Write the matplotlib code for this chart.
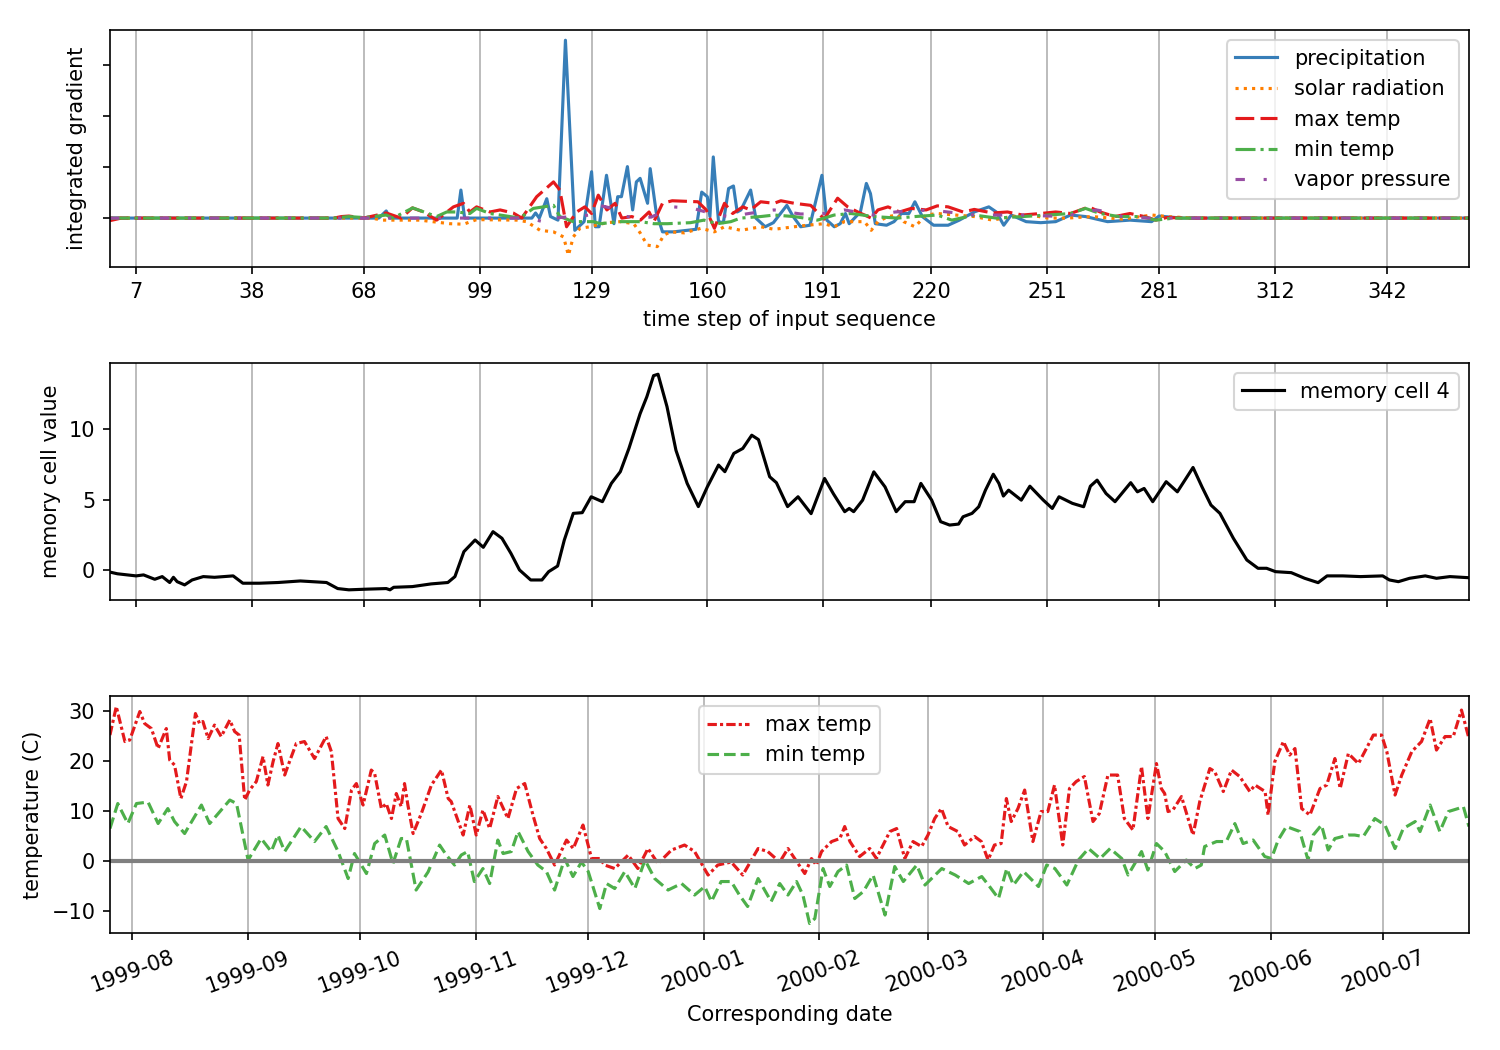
import datetime
import numpy as np
import matplotlib
matplotlib.use("Agg")
import matplotlib.pyplot as plt
import matplotlib.dates as mdates

# ---- integrated gradients (top panel), read as (time step, value) knots ----
precip_day = [0, 72, 74, 75, 93, 94, 95, 113, 114, 115, 117, 118, 120, 122, 124.5, 127, 129, 130, 131,
              133, 135, 136, 137, 138.6, 140, 141, 142, 144, 144.7, 146.3, 148, 151, 157, 158.5, 160,
              160.7, 161.6, 163, 164.3, 165.7, 167, 168, 169, 171.6, 173, 175.5, 177.7, 181.3, 183, 185,
              187.5, 190.7, 192, 194, 195.6, 197, 198, 201, 202.6, 203.7, 205, 208, 210, 212, 214, 215.6,
              217.6, 220.6, 224.5, 227.5, 231.5, 235.4, 237.4, 239.4, 241.4, 245.4, 249.3, 253.3, 257.3,
              261.3, 267.2, 273.2, 279, 281, 287, 364]
precip_val = [0, 0, 0.14, 0, 0, 0.55, 0, 0, 0.1, 0, 0.38, 0.03, -0.04, 3.49, -0.24, -0.07, 0.91, -0.17, -0.17,
              0.84, -0.11, 0.42, 0.42, 1.01, 0.16, 0.71, 0.78, 0.29, 0.97, 0.12, -0.27, -0.27, -0.22, 0.51, 0.42,
              0.03, 1.2, -0.07, -0.09, 0.58, 0.63, 0.12, 0.16, 0.55, 0, -0.17, -0.09, 0.25, 0.03, -0.17,
              -0.14, 0.84, -0.04, -0.17, -0.11, 0.09, -0.11, 0.12, 0.68, 0.48, -0.11, -0.14, -0.07, 0.09, 0.09, 0.32,
              0.03, -0.14, -0.14, -0.04, 0.12, 0.22, 0.12, -0.14, 0.06, -0.07, -0.09, -0.07, 0.06,
              0.03, -0.07, -0.04, -0.07, 0.04, 0, 0]

solar_day = [0, 70, 73, 83, 91, 94.7, 98.2, 108.9, 111.6, 115.2, 118.8, 121.5, 122.8, 124.1, 125.9, 128.6,
             133.1, 136.7, 140.3, 142.1, 143.9, 146.6, 148.4, 150.2, 153.8, 158.3, 161.9, 164.6, 169, 174.3,
             177.9, 183.3, 186.8, 191.3, 194, 196.7, 202.1, 203.9, 205.7, 208.4, 211, 212.6, 215.6, 218.6,
             221.6, 226.5, 231.5, 236.4, 241.4, 246.3, 251.3, 256.3, 263.2, 271.1, 279.1, 283.1, 290, 364]
solar_val = [0, 0, -0.04, -0.04, -0.11, -0.12, -0.03, -0.04, -0.07, -0.24, -0.27, -0.37, -0.73, -0.37, -0.2, -0.17,
             -0.09, -0.07, -0.11, -0.3, -0.53, -0.56, -0.33, -0.27, -0.29, -0.2, -0.27, -0.17, -0.24, -0.17,
             -0.22, -0.17, -0.14, -0.11, -0.17, -0.07, -0.07, -0.24, -0.07, 0.03, 0.06, -0.07, -0.17, 0.06,
             0.09, 0.06, 0.03, -0.04, 0.03, 0.06, 0, 0, 0.03, -0.02, 0.06, 0.03, 0, 0]

tmax_g_day = [0, 3, 60, 62, 64, 68, 74, 78, 81, 84, 87.5, 92, 94.7, 96.4, 98.2, 101.8, 104.5, 108, 110.3,
              114.3, 118.8, 120.5, 122.3, 125, 127.2, 129, 130.8, 133.1, 135.3, 137.1, 139.8, 142.1, 144.4,
              145.7, 148, 150.6, 157.5, 159.7, 161.9, 164.6, 166.8, 169.5, 171.6, 174.3, 177.9, 179.7, 183.3,
              187.7, 191.3, 194.9, 197.6, 200.3, 203.9, 205.7, 208.4, 211.5, 214.6, 218.6, 221.6, 224.5,
              228.5, 231.5, 236.4, 240.4, 244.4, 249.3, 253.3, 257.3, 262.2, 265.2, 269.2, 273.2, 277.1,
              280.1, 283, 290, 364]
tmax_g_val = [-0.05, 0, 0, 0.03, 0.04, 0, 0.1, 0, 0.2, 0.12, -0.04, 0.22, 0.29, 0.12, 0.22, 0.12, 0.16, 0.1, 0,
              0.42, 0.71, 0.55, -0.17, 0.12, 0.22, 0.09, 0.45, 0.16, 0.29, 0, 0.03, -0.04, 0.12,
              -0.07, 0.29, 0.34, 0.32, 0.16, -0.2, 0.29, 0.09, 0.22, 0.16, 0.32, 0.29, 0.34, 0.29,
              0.25, -0.02, 0.39, 0.22, 0.12, 0, 0.16, 0.22, 0.12, 0.19, 0.16, 0.24, 0.22,
              0.12, 0.17, 0.1, 0.12, 0.06, 0.09, 0.12, 0.09, 0.22, 0.12, 0.03, 0.09, 0.03,
              -0.04, 0.01, 0, 0]

tmin_g_day = [0, 60, 64, 68, 74, 75.8, 81.1, 87.5, 90.2, 92.9, 96.4, 98.2, 101.8, 104.5, 109.8, 113.4, 118.8,
              120.5, 124.1, 129.5, 131.3, 136.7, 142.1, 145.7, 149.3, 155.5, 159.1, 162.7, 166.3, 168.9,
              174.3, 177.9, 183.3, 189.5, 194, 198.5, 204.6, 210.9, 215.6, 221.6, 225.5, 231.5, 237.4,
              244.4, 251.3, 257.3, 261.3, 265.2, 270.2, 276.1, 280.1, 285, 364]
tmin_g_val = [0, 0, 0.03, 0.01, 0.06, 0, 0.2, 0.03, 0.12, 0.12, 0.09, 0.19, 0.09, 0.06, 0, 0.19, 0.25,
              0.03, -0.07, -0.07, -0.11, -0.07, -0.07, -0.11, -0.11, -0.09, -0.04, -0.11, -0.07, 0,
              0.03, 0.06, 0.03, -0.04, 0.06, 0.09, 0.03, 0, 0.03, 0.06, -0.04, 0.06, 0,
              0.03, 0.06, 0.09, 0.19, 0.09, 0.03, 0.03, -0.04, 0, 0]

vapor_day = [0, 112, 116, 117.4, 119, 128.6, 130.4, 134, 137, 141, 145, 150.9, 156.2, 162.5, 166, 172, 177.9,
             185, 191.3, 196.7, 204.6, 210.4, 219.6, 231.5, 244.4, 255.3, 264.2, 267.2, 271.1, 278, 364]
vapor_val = [0, 0, -0.07, -0.11, 0, 0.06, 0.26, 0.2, 0.05, 0, 0.02, 0.22, 0.19, 0.06, 0.03, 0.1, 0.16,
             0.08, 0.09, 0.16, 0.06, 0.12, 0.16, 0.06, 0.06, 0.03, 0.16, 0.12, 0.03, 0, 0]

# ---- memory cell 4 (middle panel) ----
cell_day = [0, 2, 7, 9, 12, 14, 16, 17, 18, 20, 22, 25, 28, 33, 35.6, 40, 45, 51, 58, 61, 64, 69, 74, 75, 76,
            81, 86, 90.5, 92.4, 94.8, 97.8, 100, 102.6, 105, 107.4, 109.7, 112.7, 115.7, 117.5, 119.9,
            121.7, 124.1, 126.5, 128.9, 131.9, 134.3, 136.7, 139, 142, 143.8, 145.6, 146.8, 149.2, 151.6,
            154.6, 157.6, 160, 163, 164.7, 167.1, 169.5, 171.9, 173.7, 176.7, 178.5, 181.5, 184.3, 187.8,
            191.4, 193.8, 196.8, 198, 199.2, 201.6, 204.6, 207.6, 210.6, 213, 215.4, 217.2, 220.1, 222.5,
            224.9, 227.3, 228.5, 230.9, 232.7, 234.5, 236.6, 238.1, 239.3, 240.7, 244.1, 246.4, 250, 252.4,
            254.2, 257.8, 260.8, 262.6, 264.4, 266.8, 269.2, 271, 273.4, 275.2, 277, 279.3, 282.9, 285.9,
            290.1, 292.5, 294.9, 297.3, 300.9, 304.5, 307.5, 309.8, 312.2, 316.4, 320, 323.6, 326, 330.2,
            335, 340.9, 342.7, 345.1, 348.1, 352.3, 355.3, 358.9, 364]
cell_val = [-0.15, -0.27, -0.42, -0.35, -0.66, -0.47, -0.89, -0.52, -0.83, -1.06, -0.71, -0.47, -0.52, -0.42,
            -0.94, -0.94, -0.89, -0.78, -0.89, -1.32, -1.41, -1.36, -1.32, -1.41, -1.23,
            -1.18, -0.99, -0.89, -0.47, 1.3, 2.13, 1.61, 2.72, 2.25, 1.18, 0, -0.71, -0.71, -0.12, 0.28,
            2.13, 4.02, 4.07, 5.2, 4.85, 6.15, 6.98, 8.63, 11.1, 12.3, 13.8, 13.9, 11.6, 8.5,
            6.15, 4.5, 5.9, 7.45, 6.98, 8.28, 8.63, 9.57, 9.26, 6.62, 6.2, 4.5, 5.2, 4.0,
            6.5, 5.4, 4.14, 4.37, 4.14, 4.96, 6.97, 5.9, 4.14, 4.85, 4.85, 6.15, 4.96, 3.43,
            3.19, 3.26, 3.78, 4.02, 4.49, 5.67, 6.8, 6.15, 5.25, 5.67, 4.96, 5.95, 4.96, 4.37,
            5.2, 4.73, 4.49, 5.95, 6.38, 5.43, 4.85, 5.43, 6.2, 5.55, 5.79, 4.85, 6.27, 5.55,
            7.28, 5.9, 4.61, 4.02, 2.25, 0.71, 0.12, 0.12, -0.12, -0.19, -0.59, -0.9, -0.42, -0.42,
            -0.47, -0.42, -0.71, -0.83, -0.59, -0.42, -0.59, -0.47, -0.55]

# ---- daily temperatures (bottom panel), days after 1999-07-26 ----
tmax_day = [0, 1.7, 4, 5.3, 8, 9.3, 11.1, 12.9, 15.1, 16, 17.3, 19, 20.5, 22.9, 24, 24.9, 26.3, 28, 29.8,
            32.1, 33.4, 34.6, 36.1, 37.4, 39.2, 41, 42.3, 43.7, 45, 46.8, 48.1, 49.9, 52.1, 54.8, 57.9,
            59.3, 61.1, 62.9, 64.7, 66, 67.8, 70, 70.9, 72.7, 74, 75.4, 76.7, 78, 78.9, 79.8, 81.2, 83.4,
            86.1, 88.8, 90.6, 91.4, 94.6, 96.4, 98.1, 99.9, 101.7, 103.9, 106.6, 108.9, 111.1, 113.3,
            115.1, 116.9, 119.1, 122.3, 124.1, 126.7, 129, 131.2, 132.5, 135.2, 138.8, 141.4, 144.1,
            146.8, 150.4, 153.9, 156.6, 160.2, 162.8, 166.4, 169.5, 173.6, 176.2, 179.4, 181.6, 183.4,
            186.1, 187.9, 189.2, 190.6, 193.3, 195.5, 196.8, 198.2, 200.8, 203.5, 205.3, 206.6, 208.9,
            210.7, 212.9, 215.1, 217.4, 219.1, 220.9, 222.7, 224.5, 227.1, 228.9, 231.6, 233.4, 235.2,
            236.9, 238.7, 240.1, 241.4, 243.2, 245, 247.2, 249.4, 251.2, 253, 255.2, 257, 258.8, 261,
            263.3, 265, 267.3, 269.9, 271.7, 274, 276.3, 278, 280.3, 281.6, 282.5, 283.4, 284.7, 287,
            290.1, 291.9, 294.6, 295.9, 298.2, 300.4, 302.6, 305.3, 306.7, 309.4, 310.2, 312, 314.3, 316,
            317.4, 319.2, 321.4, 324.1, 325.9, 328.1, 329.5, 331.7, 334.4, 336.1, 338.4, 340.6, 342,
            344.2, 346, 348.7, 351.3, 353.6, 355.3, 357.6, 359.8, 362, 364]
tmax_val = [25.2, 30.9, 23.9, 24.2, 29.9, 27.5, 26.5, 22.5, 26.5, 20.2, 19.2, 12.5, 15.9, 29.5, 27.5, 27.9, 24.5,
            27.2, 24.9, 28.2, 25.9, 25.2, 12.2, 14.2, 15.9, 20.9, 15.2, 19.9, 23.5, 17.2, 19.9, 23.5, 23.9,
            20.5, 24.9, 21.9, 8.5, 6.5, 14.2, 15.5, 11.2, 18.2, 17.5, 10.5, 11.5, 8.5, 13.5, 10.9, 15.5,
            11.2, 5.5, 9.5, 15.2, 18.2, 12.5, 11.9, 5.2, 11.2, 5.2, 10.2, 6.5, 12.9, 8.5, 14.5, 15.5, 9.2,
            4.5, 2.5, -0.8, 4.2, 2.5, 7.2, 0.5, 0.5, -0.8, -1.5, 1.2, -1.5, 2.5, -0.5, 2.2, 3.2, 1.9,
            -2.8, -0.8, -0.2, -2.8, 2.5, 1.9, -0.2, 2.5, 0.5, -2.5, 0.5, -0.8, 1.9, 3.9, 4.5, 6.9, 3.9,
            0.9, 2.5, 0.5, 2.5, 5.9, 6.5, 0.5, 3.9, 2.9, 5.2, 8.5, 10.5, 6.9, 5.9, 3.2, 4.9, 3.9, 0.2,
            3.2, 3.5, 12.5, 7.9, 10.5, 14.2, 3.9, 9.9, 9.9, 15.2, 3.2, 14.5, 15.9, 16.9, 7.9, 9.5, 17.2,
            17.2, 8.5, 6.2, 18.9, 8.5, 19.5, 14.5, 13.5, 9.9, 10.2, 12.9, 5.2, 11.9, 18.5, 17.9, 13.9,
            18.2, 16.9, 13.9, 15.2, 13.9, 9.2, 19.9, 23.9, 21.2, 22.5, 10.5, 9.2, 14.5, 15.2, 20.5, 14.5,
            21.5, 19.5, 21.9, 25.2, 25.2, 21.9, 13.2, 17.2, 21.9, 23.9, 28.5, 22.2, 24.9, 24.9, 30.2, 24.5]

tmin_day = [0, 2.1, 4.8, 7.1, 10.2, 12.9, 15.5, 17.3, 20, 24.5, 26.7, 29.8, 32.1, 33.9, 37, 40.5, 43.2, 45,
            46.8, 51.2, 54.8, 57.9, 61.1, 63.8, 65.5, 68.7, 70.9, 73.6, 75.8, 78, 79.4, 82, 85.2, 88.3,
            90.1, 92.3, 94.1, 95.8, 97.6, 99.9, 101.7, 103.9, 105.3, 107.5, 109.3, 112, 114.6, 116.9,
            119.1, 121.8, 124, 126.3, 128.1, 131.2, 133, 135.2, 137.9, 140.6, 143.3, 145.9, 149.5, 153.1,
            156.6, 159.3, 161.1, 163.7, 166.4, 168.6, 170.8, 173.6, 177.1, 179.4, 181.6, 183.9, 185.6,
            187.4, 188.8, 191, 192.8, 195, 197.3, 199.5, 201.8, 204.4, 207.6, 210.2, 212.5, 216.1, 218.3,
            222.8, 226.4, 230, 233.5, 235.3, 238, 240.2, 242, 244.7, 248.7, 250.9, 253.1, 256.3, 259.4,
            262.1, 265.2, 267.9, 271, 272.7, 274.5, 276.3, 278, 280.3, 282.5, 285.2, 288.3, 290.6, 292.3,
            293.2, 296.4, 299, 301.3, 303.5, 306.2, 309.3, 311.1, 312.9, 315.1, 318.7, 320.9, 322.3,
            324.5, 326.3, 328.1, 331.7, 333.4, 335.7, 338.8, 341.5, 344.2, 346.4, 349.6, 350.9, 353.6,
            356.2, 358.5, 361.1, 362.5, 364]
tmin_val = [6.5, 11.5, 7.5, 11.5, 11.8, 7.5, 10.5, 7.9, 5.5, 11.2, 7.5, 10.2, 12.2, 11.5, 0.2, 4.5, 1.9, 5.2,
            1.9, 6.9, 3.9, 6.9, 1.9, -3.5, 1.5, -2.5, 3.5, 5.2, -0.5, 4.5, 4.5, -5.8, -2.2, 3.2,
            1.2, -0.8, 1.2, 1.9, -4.1, -1.5, -4.5, 4.2, 1.5, 1.9, 5.9, 1.9, -0.8, -2.1,
            -5.8, 0.5, -3.1, -0.2, -2.1, -9.5, -4.5, -5.5, -2.1, -5.5, 0.2, -3.5, -5.8, -4.5,
            -6.8, -5.1, -8.1, -4.1, -4.1, -6.8, -9.1, -3.5, -8.1, -4.5, -6.8, -4.1, -6.8,
            -12.5, -11.5, -1.5, -5.1, -2.1, -0.8, -7.5, -6.1, -2.8, -10.8, -1.1, -4.1, -0.8, -4.8,
            -1.5, -2.8, -4.5, -3.1, -4.8, -7.5, -1.5, -4.8, -2.1, -5.1, -0.8, -1.5, -4.8, 0.2,
            2.5, 0.5, 2.5, 0.5, -2.8, -0.5, 1.9, -1.8, 3.5, 1.9, -2.1, 0.2, -1.5, -0.8,
            2.9, 3.9, 3.9, 7.5, 3.5, 4.2, 0.9, 0.5, 4.2, 6.9, 5.9, 0.2, 5.2,
            7.2, 2.2, 4.5, 5.2, 5.2, 4.9, 8.5, 7.2, 2.5, 6.5, 7.9, 5.9, 11.2,
            5.9, 9.9, 10.5, 10.9, 6.9]

month_steps = [7, 38, 68, 99, 129, 160, 191, 220, 251, 281, 312, 342]

start = mdates.date2num(datetime.datetime(1999, 7, 26))

fig = plt.figure(figsize=(10, 7), dpi=150)
ax1 = fig.add_axes([0.0733, 0.7457, 0.906, 0.2257])
ax2 = fig.add_axes([0.0733, 0.4286, 0.906, 0.2257], sharex=ax1)
ax3 = fig.add_axes([0.0733, 0.1114, 0.906, 0.2257])

# Top: integrated gradients
ax1.plot(precip_day, precip_val, color='#377eb8', ls='-', lw=1.5, label='precipitation')
ax1.plot(solar_day, solar_val, color='#ff7f00', ls=':', lw=1.5, label='solar radiation')
ax1.plot(tmax_g_day, tmax_g_val, color='#e41a1c', ls='--', lw=1.5, dashes=(6, 2), label='max temp')
ax1.plot(tmin_g_day, tmin_g_val, color='#4daf4a', ls='-.', lw=1.5, label='min temp')
ax1.plot(vapor_day, vapor_val, color='#984ea3', ls=(0, (3, 6, 1, 6)), lw=1.5, label='vapor pressure')
ax1.set_xlim(0, 364)
ax1.set_ylim(-0.96, 3.69)
ax1.set_yticks([0, 1, 2, 3])
ax1.set_yticklabels([])
ax1.set_xticks(month_steps)
ax1.grid(axis='x')
ax1.set_xlabel('time step of input sequence')
ax1.set_ylabel('integrated gradient')
ax1.legend(loc='upper right')

# Middle: memory cell
ax2.plot(cell_day, cell_val, color='black', lw=1.5, label='memory cell 4')
ax2.set_ylim(-2.13, 14.7)
ax2.set_yticks([0, 5, 10])
ax2.tick_params(axis='x', labelbottom=False)
ax2.grid(axis='x')
ax2.set_ylabel('memory cell value')
ax2.legend(loc='upper right')

# Bottom: temperatures by date
ax3.plot(start + np.array(tmax_day), tmax_val, color='#e41a1c', ls=(0, (3, 1, 1, 1)), lw=1.5, label='max temp')
ax3.plot(start + np.array(tmin_day), tmin_val, color='#4daf4a', ls='--', lw=1.5, label='min temp')
ax3.axhline(0, color='gray', lw=2)
ax3.set_xlim(start, start + 364)
ax3.set_ylim(-14.4, 33)
ax3.set_yticks([-10, 0, 10, 20, 30])
ax3.xaxis.set_major_locator(mdates.MonthLocator())
ax3.xaxis.set_major_formatter(mdates.DateFormatter('%Y-%m'))
plt.setp(ax3.get_xticklabels(), rotation=20)
ax3.grid(axis='x')
ax3.set_xlabel('Corresponding date')
ax3.set_ylabel('temperature (C)')
ax3.legend(loc='upper center')

fig.savefig('out.png', dpi=150)
